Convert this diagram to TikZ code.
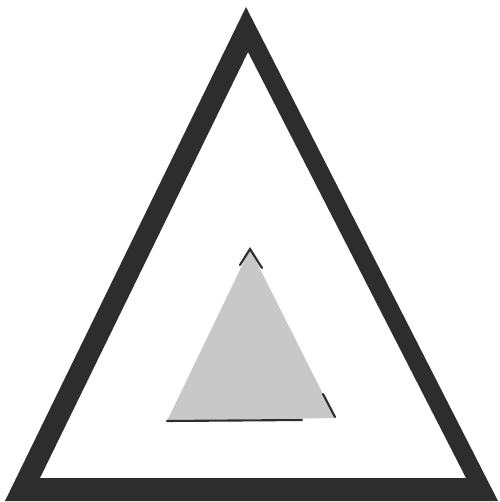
\documentclass[tikz,border=0pt]{standalone}
\usepackage{xcolor}
\usepackage{tikz}

\definecolor{inkdark}{RGB}{45,45,45}
\definecolor{shade}{RGB}{200,200,200}

\begin{document}
\begin{tikzpicture}[
  x=0.02cm, y=-0.02cm,
  frame/.style={fill=inkdark, even odd rule},
  inner/.style={fill=shade},
  edge/.style={draw=inkdark, line width=1.2pt, line cap=round}
]
\useasboundingbox (0,0) rectangle (499,502);
% outer triangle, thick frame
\fill[frame] (246,7) -- (498,501) -- (5,501) -- cycle
             (248,52) -- (466,478) -- (40,478) -- cycle;
% small shaded triangle
\fill[inner] (250,249) -- (335,418) -- (167,421) -- cycle;
\draw[edge] (240,265) -- (250,249) -- (262,268);
\draw[edge] (167,421) -- (302,420);
\draw[edge] (323,394) -- (335,417);
\end{tikzpicture}
\end{document}
